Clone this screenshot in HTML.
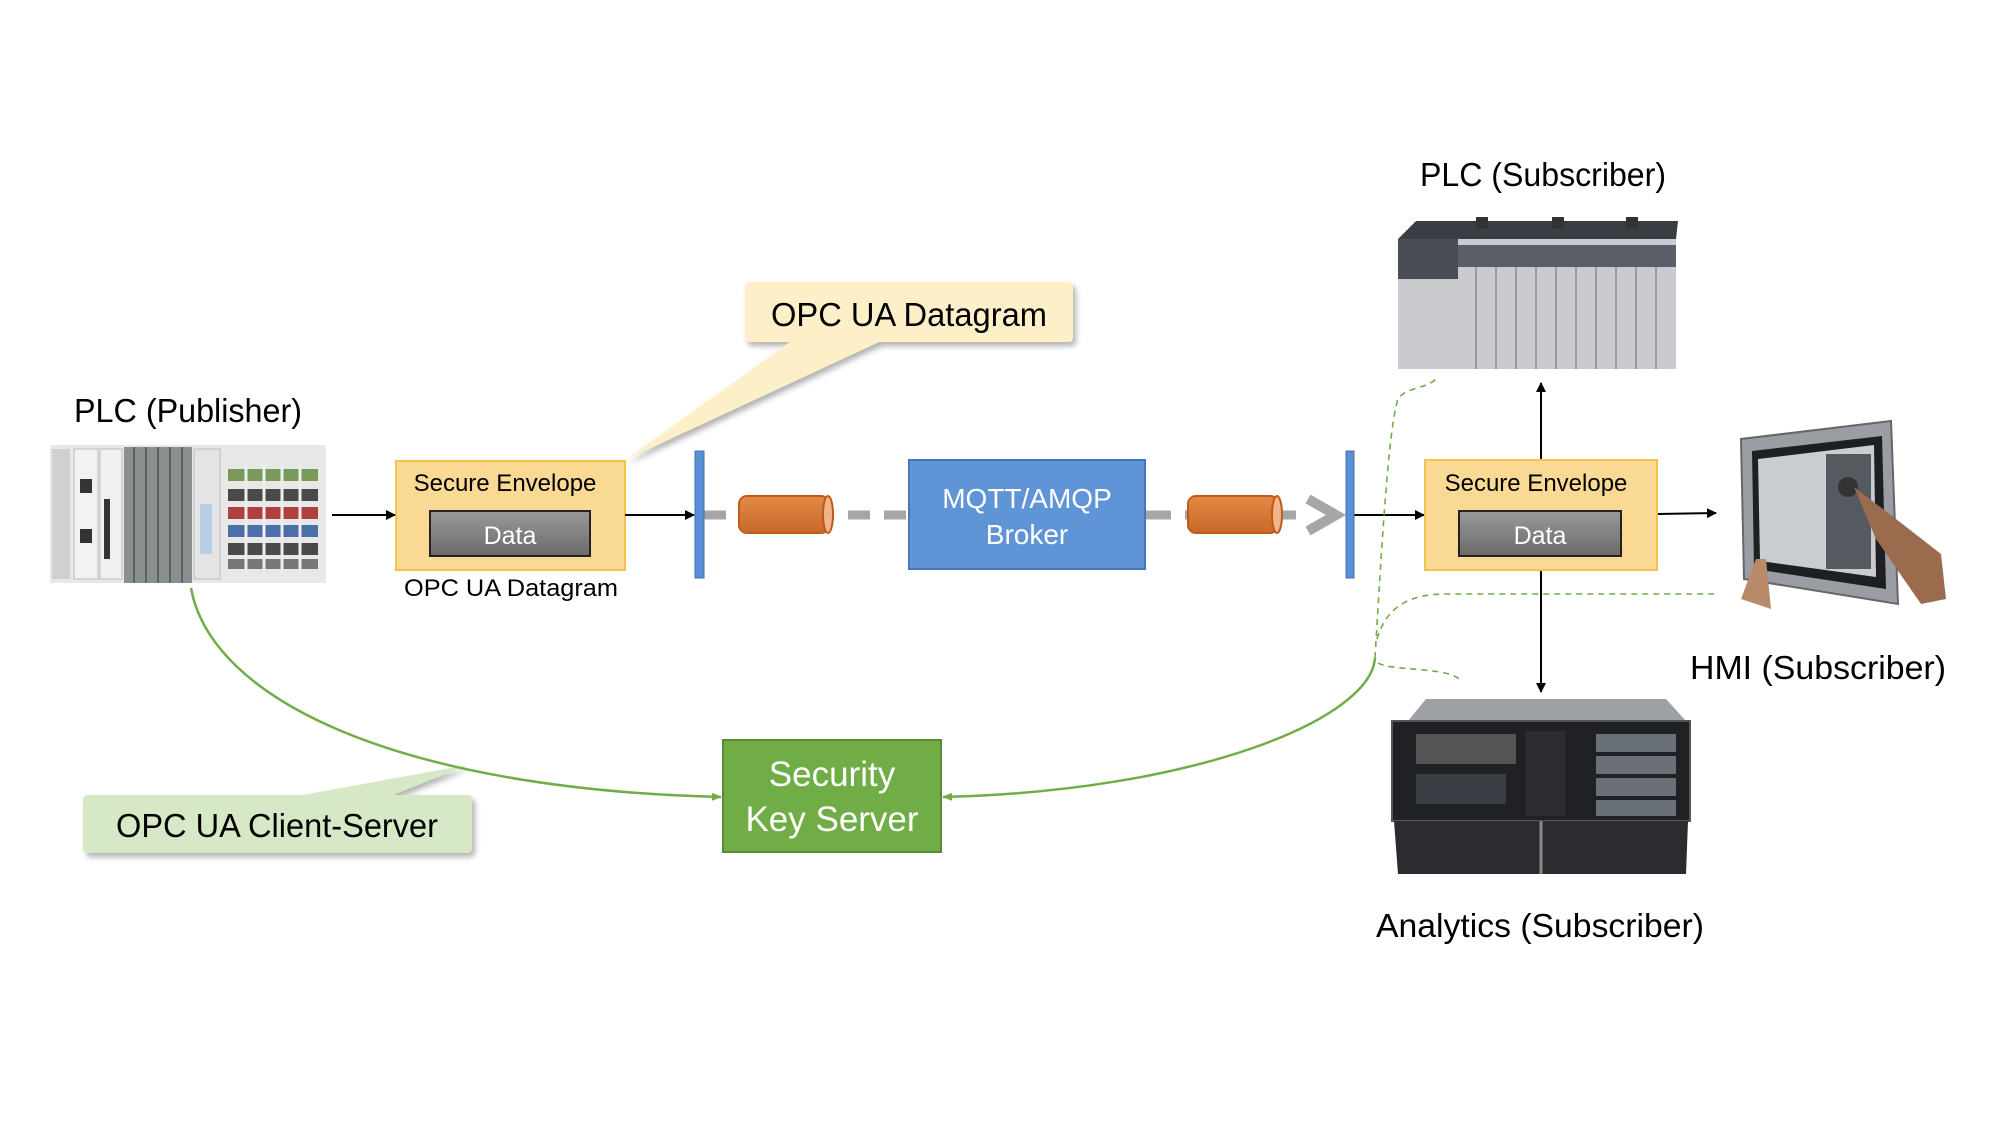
<!DOCTYPE html>
<html><head><meta charset="utf-8"><style>body{margin:0;background:#fff}svg{display:block}text{font-family:"Liberation Sans",sans-serif}</style></head><body>
<svg width="2000" height="1125" viewBox="0 0 2000 1125" xmlns="http://www.w3.org/2000/svg">
<defs>
<linearGradient id="dg" x1="0" y1="0" x2="0" y2="1"><stop offset="0" stop-color="#9a9a9a"/><stop offset="1" stop-color="#6a6a6a"/></linearGradient>
<linearGradient id="cy" x1="0" y1="0" x2="0" y2="1"><stop offset="0" stop-color="#e38a45"/><stop offset="1" stop-color="#c8692a"/></linearGradient>
<filter id="sh" x="-10%" y="-10%" width="130%" height="140%"><feDropShadow dx="3" dy="4" stdDeviation="3" flood-color="#000" flood-opacity="0.3"/></filter>
<marker id="ah" markerWidth="10" markerHeight="10" refX="9" refY="5" orient="auto" markerUnits="userSpaceOnUse"><path d="M0,0 L10,5 L0,10 z" fill="#000"/></marker>
<marker id="ag" markerWidth="10" markerHeight="10" refX="9" refY="5" orient="auto" markerUnits="userSpaceOnUse"><path d="M0,1 L10,5 L0,9 z" fill="#70ad47"/></marker>
</defs>
<g transform="translate(-4,-1)">
<!-- callouts -->
<g filter="url(#sh)">
<path d="M749,288 Q749,283 754,283 L1072,283 Q1077,283 1077,288 L1077,338 Q1077,343 1072,343 L883,343 L629,461 L794,343 L754,343 Q749,343 749,338 Z" fill="#fdf0c8"/>
<path d="M92,796 L307,796 L471,766 L397,796 L471,796 Q476,796 476,801 L476,849 Q476,854 471,854 L92,854 Q87,854 87,849 L87,801 Q87,796 92,796 Z" fill="#d6e8c5"/>
</g>
<text x="913" y="327" font-size="33" text-anchor="middle" textLength="276" lengthAdjust="spacingAndGlyphs">OPC UA Datagram</text>
<text x="281" y="838" font-size="33" text-anchor="middle" textLength="322" lengthAdjust="spacingAndGlyphs">OPC UA Client-Server</text>

<!-- labels -->
<text x="192" y="423" font-size="33" text-anchor="middle" textLength="228" lengthAdjust="spacingAndGlyphs">PLC (Publisher)</text>
<text x="1547" y="187" font-size="33" text-anchor="middle" textLength="246" lengthAdjust="spacingAndGlyphs">PLC (Subscriber)</text>
<text x="1822" y="680" font-size="33" text-anchor="middle" textLength="256" lengthAdjust="spacingAndGlyphs">HMI (Subscriber)</text>
<text x="1544" y="938" font-size="33" text-anchor="middle" textLength="328" lengthAdjust="spacingAndGlyphs">Analytics (Subscriber)</text>

<!-- PLC publisher image -->
<g>
<rect x="54" y="446" width="276" height="138" fill="#e8e8e8"/>
<rect x="56" y="450" width="18" height="130" fill="#d0d0d0"/>
<rect x="78" y="450" width="24" height="130" fill="#f2f2f2" stroke="#bbb"/>
<rect x="84" y="480" width="12" height="14" fill="#333"/><rect x="84" y="530" width="12" height="14" fill="#333"/>
<rect x="104" y="450" width="22" height="130" fill="#f0f0f0" stroke="#bbb"/>
<rect x="108" y="500" width="6" height="60" fill="#333"/>
<rect x="128" y="448" width="68" height="136" fill="#8a8f90"/>
<g stroke="#5d6263" stroke-width="2"><line x1="138" y1="448" x2="138" y2="584"/><line x1="150" y1="448" x2="150" y2="584"/><line x1="162" y1="448" x2="162" y2="584"/><line x1="174" y1="448" x2="174" y2="584"/><line x1="186" y1="448" x2="186" y2="584"/></g>
<rect x="198" y="450" width="26" height="130" fill="#e4e4e4" stroke="#bbb"/>
<rect x="204" y="505" width="12" height="50" fill="#b8cde6"/>
<rect x="232" y="470" width="90" height="12" fill="#7a9a5a"/>
<rect x="232" y="490" width="90" height="12" fill="#4a4a4a"/>
<rect x="232" y="508" width="90" height="12" fill="#b04040"/>
<rect x="232" y="526" width="90" height="12" fill="#4b6fa8"/>
<rect x="232" y="544" width="90" height="12" fill="#4a4a4a"/>
<rect x="232" y="560" width="90" height="10" fill="#777"/>
<g stroke="#eee" stroke-width="3"><line x1="250" y1="465" x2="250" y2="575"/><line x1="268" y1="465" x2="268" y2="575"/><line x1="286" y1="465" x2="286" y2="575"/><line x1="304" y1="465" x2="304" y2="575"/></g>
</g>

<!-- envelope 1 -->
<rect x="400" y="462" width="229" height="109" fill="#f9d993" stroke="#f3c34a" stroke-width="2"/>
<text x="509" y="492" font-size="24" text-anchor="middle">Secure Envelope</text>
<rect x="434" y="512" width="160" height="45" fill="url(#dg)" stroke="#222" stroke-width="2"/>
<text x="514" y="545" font-size="25" fill="#fff" text-anchor="middle">Data</text>
<text x="515" y="597" font-size="24" text-anchor="middle" textLength="214" lengthAdjust="spacingAndGlyphs">OPC UA Datagram</text>

<!-- arrows -->
<g stroke="#000" stroke-width="2" fill="none">
<line x1="336" y1="516" x2="399" y2="516" marker-end="url(#ah)"/>
<line x1="629" y1="516" x2="698" y2="516" marker-end="url(#ah)"/>
<line x1="1358" y1="516" x2="1428" y2="516" marker-end="url(#ah)"/>
<line x1="1661" y1="515" x2="1720" y2="514" marker-end="url(#ah)"/>
<line x1="1545" y1="461" x2="1545" y2="384" marker-end="url(#ah)"/>
<line x1="1545" y1="571" x2="1545" y2="693" marker-end="url(#ah)"/>
</g>

<!-- gray dashed -->
<g stroke="#a6a6a6" stroke-width="9" fill="none">
<line x1="708" y1="516" x2="913" y2="516" stroke-dasharray="22,14"/>
<line x1="1149" y1="516" x2="1192" y2="516" stroke-dasharray="26,14"/>
<line x1="1287" y1="516" x2="1300" y2="516"/>
<polyline points="1312,500 1340,516 1312,532" stroke-width="10"/>
</g>

<!-- bars -->
<rect x="699" y="452" width="9" height="127" fill="#5b8fd4" stroke="#3f6fb5"/>
<rect x="1350" y="452" width="8" height="127" fill="#5b8fd4" stroke="#3f6fb5"/>

<!-- cylinders -->
<g stroke="#c05a1a" stroke-width="2">
<rect x="743" y="497" width="90" height="37" rx="8" fill="url(#cy)"/>
<ellipse cx="832" cy="515.5" rx="5" ry="18.5" fill="#f2b488"/>
<rect x="1192" y="497" width="90" height="37" rx="8" fill="url(#cy)"/>
<ellipse cx="1281" cy="515.5" rx="5" ry="18.5" fill="#f2b488"/>
</g>

<!-- broker -->
<rect x="913" y="461" width="236" height="109" fill="#5f94d6" stroke="#4577bd" stroke-width="2"/>
<text x="1031" y="509" font-size="28" fill="#fff" text-anchor="middle">MQTT/AMQP</text>
<text x="1031" y="545" font-size="28" fill="#fff" text-anchor="middle">Broker</text>

<!-- envelope 2 -->
<rect x="1429" y="461" width="232" height="110" fill="#f9d993" stroke="#f3c34a" stroke-width="2"/>
<text x="1540" y="492" font-size="24" text-anchor="middle">Secure Envelope</text>
<rect x="1463" y="512" width="162" height="45" fill="url(#dg)" stroke="#222" stroke-width="2"/>
<text x="1544" y="545" font-size="25" fill="#fff" text-anchor="middle">Data</text>

<!-- green connectors -->
<path d="M195,589 C215,700 400,790 725,798" stroke="#70ad47" stroke-width="2.5" fill="none" marker-end="url(#ag)"/>
<path d="M1379,659 C1375,720 1200,792 947,798" stroke="#70ad47" stroke-width="2.5" fill="none" marker-end="url(#ag)"/>
<g stroke="#70ad47" stroke-width="1.6" fill="none" stroke-dasharray="6,5">
<path d="M1379,659 C1385,560 1392,430 1402,400 C1410,388 1430,390 1440,380"/>
<path d="M1381,640 C1390,610 1410,595 1450,595 L1722,595"/>
<path d="M1382,664 C1395,672 1450,668 1463,680"/>
</g>

<!-- SKS -->
<rect x="727" y="741" width="218" height="112" fill="#70ad47" stroke="#558a36" stroke-width="2"/>
<text x="836" y="787" font-size="35" fill="#fff" text-anchor="middle">Security</text>
<text x="836" y="832" font-size="35" fill="#fff" text-anchor="middle">Key Server</text>

<!-- PLC subscriber image -->
<g>
<rect x="1402" y="240" width="278" height="130" fill="#c9cbcf"/>
<path d="M1402,240 L1420,222 L1682,222 L1680,240 Z" fill="#3a3d44"/>
<rect x="1402" y="240" width="60" height="40" fill="#4a4d55"/>
<rect x="1462" y="246" width="218" height="22" fill="#5a5e68"/>
<g stroke="#9a9ca2" stroke-width="2"><line x1="1480" y1="268" x2="1480" y2="370"/><line x1="1500" y1="268" x2="1500" y2="370"/><line x1="1520" y1="268" x2="1520" y2="370"/><line x1="1540" y1="268" x2="1540" y2="370"/><line x1="1560" y1="268" x2="1560" y2="370"/><line x1="1580" y1="268" x2="1580" y2="370"/><line x1="1600" y1="268" x2="1600" y2="370"/><line x1="1620" y1="268" x2="1620" y2="370"/><line x1="1640" y1="268" x2="1640" y2="370"/><line x1="1660" y1="268" x2="1660" y2="370"/></g>
<rect x="1480" y="218" width="12" height="12" fill="#333"/><rect x="1556" y="218" width="12" height="12" fill="#333"/><rect x="1630" y="218" width="12" height="12" fill="#333"/>
</g>

<!-- HMI image -->
<g>
<path d="M1745,440 L1895,422 L1902,605 L1748,580 Z" fill="#9a9ea4" stroke="#666" stroke-width="2"/>
<path d="M1756,452 L1886,437 L1890,590 L1758,570 Z" fill="#1d1f22"/>
<path d="M1762,460 L1878,446 L1880,578 L1764,562 Z" fill="#c9ccd0"/>
<rect x="1830" y="455" width="45" height="115" fill="#555a60"/>
<circle cx="1852" cy="488" r="10" fill="#333"/>
<path d="M1858,488 L1900,520 L1945,555 L1950,600 L1925,605 L1880,540 Z" fill="#9b6b4e"/>
<path d="M1745,600 L1760,560 L1770,560 L1775,610 Z" fill="#b88a6a"/>
</g>

<!-- Analytics image -->
<g>
<path d="M1412,722 L1430,700 L1670,700 L1690,722 Z" fill="#9da1a6"/>
<rect x="1396" y="722" width="298" height="100" fill="#1f2124" stroke="#555" stroke-width="2"/>
<rect x="1420" y="735" width="100" height="30" fill="#555"/>
<rect x="1420" y="775" width="90" height="30" fill="#3a3d44"/>
<rect x="1530" y="732" width="40" height="85" fill="#2a2c30"/>
<rect x="1600" y="735" width="80" height="18" fill="#6a7078"/><rect x="1600" y="757" width="80" height="18" fill="#6a7078"/><rect x="1600" y="779" width="80" height="18" fill="#6a7078"/><rect x="1600" y="801" width="80" height="16" fill="#6a7078"/>
<path d="M1398,822 L1692,822 L1690,875 L1402,875 Z" fill="#2a2c30"/>
<line x1="1545" y1="822" x2="1545" y2="875" stroke="#888" stroke-width="3"/>
</g>
</g>
</svg>
</body></html>
